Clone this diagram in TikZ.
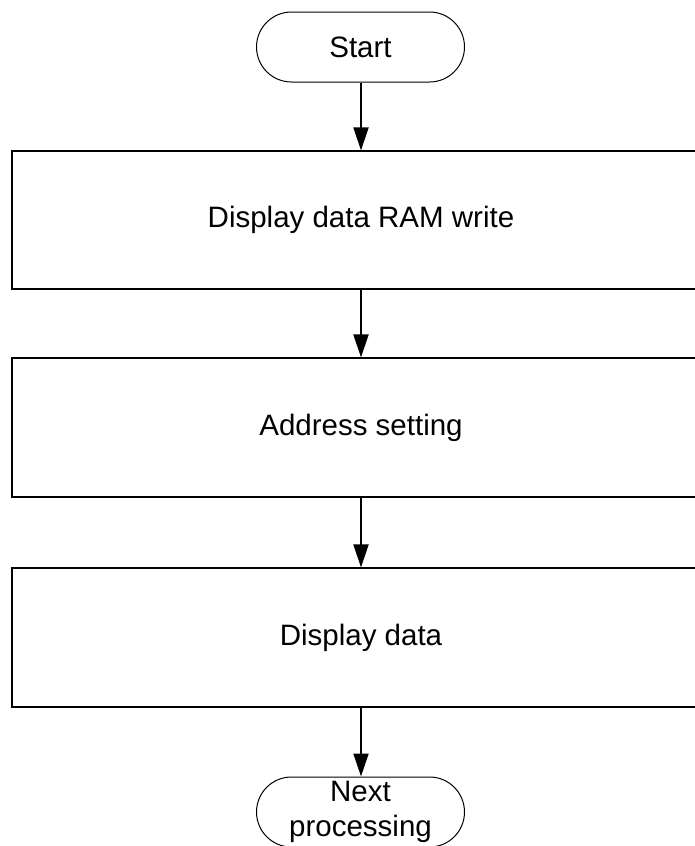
\documentclass[tikz,border=0pt]{standalone}
\usepackage{fontspec}
\setmainfont{Liberation Sans}
\usetikzlibrary{arrows.meta}

\tikzset{
    term/.style={draw, line width=1pt, rounded corners=35pt, minimum width=208pt,
        minimum height=70pt, align=center, inner sep=0pt, font=\fontsize{29.5}{35}\selectfont},
    proc/.style={draw, line width=1.2pt, minimum width=698pt, minimum height=138pt,
        inner sep=0pt, font=\fontsize{29.5}{35}\selectfont},
    flow/.style={line width=2pt, -{Triangle[width=15pt,length=23pt]}}
}

\begin{document}
\begin{tikzpicture}[x=1pt, y=-1pt]
    % page frame
    \useasboundingbox (0,0) rectangle (695,846);
    \clip (0,0) rectangle (695,846);

    % terminals
    \node[term] (start) at (360.5,47) {Start};
    \node[term] (next) at (360.5,812) {Next\\processing};

    % steps
    \node[proc] (ram) at (361,220) {Display data RAM write};
    \node[proc, minimum height=139pt] (addr) at (361,427.5) {Address setting};
    \node[proc, minimum height=139pt] (disp) at (361,637.5) {Display data};

    % flow
    \foreach \a/\b in {start/ram, ram/addr, addr/disp, disp/next} {
        \draw[flow] (\a.south -| 361,0) -- (\b.north -| 361,0);
    }
\end{tikzpicture}
\end{document}
